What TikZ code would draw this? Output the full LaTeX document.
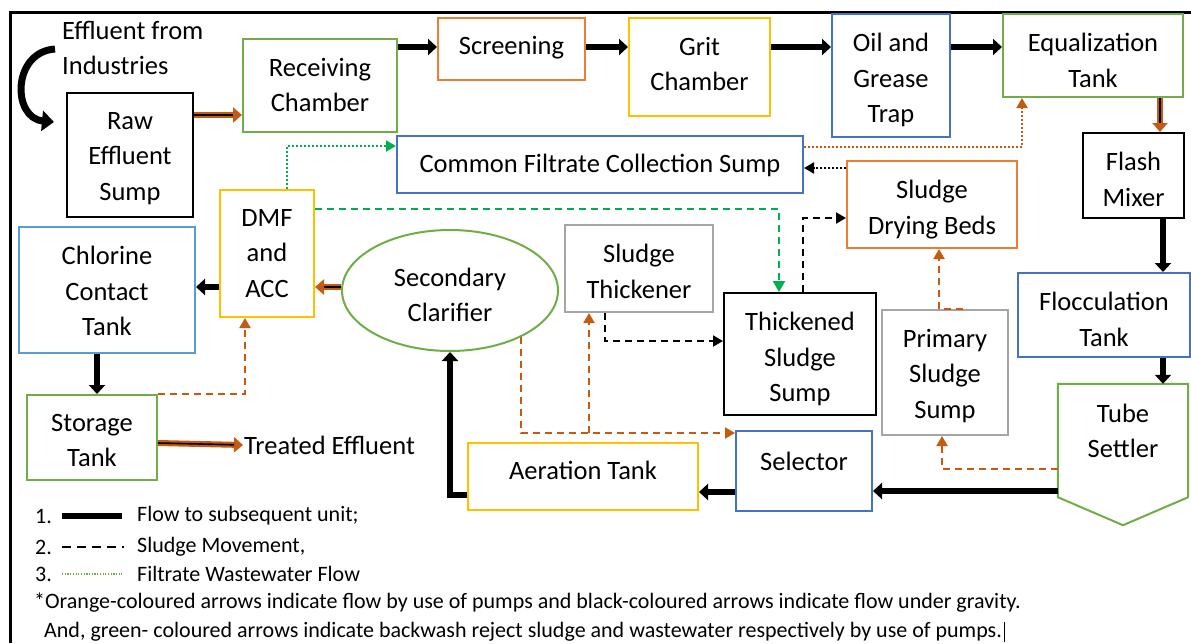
\documentclass[tikz,border=0pt]{standalone}
\usepackage{fontspec}
\setmainfont{Carlito}
\usetikzlibrary{arrows.meta,calc,shapes.geometric}

\definecolor{cgreen}{HTML}{70AD47}
\definecolor{corangebox}{HTML}{ED7D31}
\definecolor{cgold}{HTML}{FFC000}
\definecolor{cblue}{HTML}{4472C4}
\definecolor{clblue}{HTML}{5B9BD5}
\definecolor{cgray}{HTML}{A5A5A5}
\definecolor{corange}{HTML}{C55A11}
\definecolor{cbright}{HTML}{00B050}

\newcommand\boxfont{\fontsize{26.5}{35.5}\selectfont}
\newcommand\legfont{\fontsize{22}{26}\selectfont}
% a treatment unit: name, centre x, centre y, width, height, colour, text, text offset from the top
\newcommand\procunit[8]{%
  \node[box, draw=#6, minimum width=#4pt, minimum height=#5pt] (#1) at (#2,#3) {};
  \node[lbl] (#1-t) at ($(#1.north)+(0,#8)$) {#7};}

\begin{document}
\begin{tikzpicture}[x=1pt,y=-1pt,
  box/.style={draw, line width=2pt, inner sep=0pt},
  txt/.style={inner sep=0pt, align=center, font=\boxfont},
  lbl/.style={txt, anchor=north, execute at begin node=\strut},
  flow/.style={draw=black, line width=6pt, -{Triangle[length=9pt,width=16pt]}},
  pump/.style={draw=corange, line width=6pt, -{Triangle[length=9pt,width=15pt]},
    postaction={draw=black, line width=1.6pt, -, shorten >=9pt}},
  odash/.style={draw=corange, line width=2pt, dash pattern=on 7pt off 5pt,
    -{Triangle[length=10pt,width=11pt]}},
  bdash/.style={draw=black, line width=2pt, dash pattern=on 7pt off 5pt,
    -{Triangle[length=10pt,width=11pt]}},
  gdash/.style={draw=cbright, line width=2pt, dash pattern=on 7pt off 5pt,
    -{Triangle[length=11pt,width=12pt]}},
  gdot/.style={draw=cbright, line width=2pt, dash pattern=on 2pt off 2pt,
    -{Triangle[length=10pt,width=11pt]}},
  bdot/.style={draw=black, line width=2pt, dash pattern=on 2pt off 2pt,
    -{Triangle[length=10pt,width=11pt]}},
  odot/.style={draw=corange, line width=2pt, dash pattern=on 2pt off 2pt,
    -{Triangle[length=10pt,width=11pt]}},
  leg/.style={inner sep=0pt, anchor=west, font=\legfont},
]
\useasboundingbox (0,0) rectangle (1191,643);
\fill[white] (0,0) rectangle (1191,643);

% frame
\draw[line width=3pt] (10,643) -- (10,12) -- (1191,12);

% process units
\procunit{raw}{130}{155}{126}{124}{black}{Raw\\Effluent\\Sump}{20}
\procunit{recv}{320}{85.5}{154}{93}{cgreen}{Receiving\\Chamber}{20}
\procunit{scr}{511.5}{49}{147}{62}{corangebox}{Screening}{12.5}
\procunit{grit}{699.5}{67}{141}{98}{cgold}{Grit\\Chamber}{20}
\procunit{oil}{891}{75.5}{118}{123}{cblue}{Oil and\\Grease\\Trap}{20}
\procunit{eq}{1093}{55.5}{180}{83}{cgreen}{Equalization\\Tank}{20}
\procunit{flash}{1133.5}{175.5}{101}{85}{black}{Flash\\Mixer}{20}
\procunit{cfs}{600}{164.5}{406}{57}{cblue}{Common Filtrate Collection Sump}{12.5}
\procunit{sdb}{932}{204.5}{170}{87}{corangebox}{Sludge\\Drying Beds}{20}
\procunit{dmf}{267}{253.5}{94}{127}{cgold}{DMF\\and\\ACC}{20}
\procunit{cct}{107}{290}{176}{126}{clblue}{Chlorine\\Contact\\Tank}{20}
\procunit{stor}{92}{437.5}{130}{85}{cgreen}{Storage\\Tank}{20}
\procunit{thk}{639}{268.5}{148}{87}{cgray}{Sludge\\Thickener}{20}
\procunit{tss}{800}{354}{152}{122}{black}{Thickened\\Sludge\\Sump}{20}
\procunit{pss}{945}{372.5}{126}{125}{cgray}{Primary\\Sludge\\Sump}{20}
\procunit{floc}{1104}{315}{172}{84}{cblue}{Flocculation\\Tank}{20}
\procunit{sel}{804}{471}{136}{80}{cblue}{Selector}{15.5}
\procunit{aer}{583}{476.5}{230}{67}{cgold}{Aeration Tank}{12.5}

% secondary clarifier
\node[box, draw=cgreen, ellipse, minimum width=216pt, minimum height=121pt] (sec) at (450,290.5) {};
\node[lbl] (sec-t) at ($(sec.north)+(0,38.5)$) {Secondary\\Clarifier};

% tube settler (pentagon pointing down)
\node[inner sep=0pt, minimum width=130pt, minimum height=113pt] (ts) at (1123,440.5) {};
\draw[cgreen, line width=2pt, line join=miter]
  (ts.north west) -- (ts.north east) -- (ts.south east) -- ($(ts.south)+(0,28)$)
  -- (ts.south west) -- cycle;
\node[lbl] (ts-t) at ($(ts.north)+(0,20)$) {Tube\\Settler};

% texts outside the units
\node[txt, anchor=west, align=left] (ind) at (62,48) {Effluent from\\Industries};
\node[txt, anchor=west, inner sep=1pt] (treat) at (243,445) {Treated Effluent};

% incoming effluent
\draw[line width=7pt, -{Triangle[length=12pt,width=20pt]}]
  ($(ind.west)+(-7,1)$) .. controls (12,52) and (12,118) .. ($(raw.west |- 0,122)+(-12,0)$);

% main line (gravity / pumps)
\draw[pump] (raw.east |- 0,115) -- (recv.west |- 0,115);
\draw[flow] (recv.east |- 0,47) -- (scr.west |- 0,47);
\draw[flow] (scr.east |- 0,47) -- (grit.west |- 0,47);
\draw[flow] (grit.east |- 0,47) -- (oil.west |- 0,47);
\draw[flow] (oil.east |- 0,47) -- (eq.west |- 0,47);
\draw[pump] (eq.south -| 1160,0) -- (flash.north -| 1160,0);
\draw[flow] (flash.south -| 1163,0) -- (floc.north -| 1163,0);
\draw[flow] (floc.south -| 1163,0) -- (ts.north -| 1163,0);
\draw[flow] (ts.west |- 0,491) -- (sel.east |- 0,491);
\draw[flow] (sel.west |- 0,492) -- (aer.east |- 0,492);
\draw[flow, line join=miter] (aer.west |- 0,495) -| (sec.south);
\draw[pump] (sec.west |- 0,287) -- (dmf.east |- 0,287);
\draw[flow] (dmf.west |- 0,287) -- (cct.east |- 0,287);
\draw[flow] (cct.south -| 97,0) -- (stor.north -| 97,0);
\draw[pump] (stor.east |- 0,443) -- (treat.west);

% pumped sludge and recirculation
\draw[odash] (stor.north east) -| (dmf.south -| 245,0);
\draw[odash] (sec.-33) |- (sel.west |- 0,433);
\coordinate (split) at (589,433);
\draw[odash] (split) -- (thk.south -| split);
\draw[odash] (pss.north -| 963,0) -- (pss.north -| 939,0) -- (sdb.south -| 939,0);
\draw[odash] (ts.west |- 0,469) -| (pss.south -| 942,0);

% sludge movement under gravity
\draw[bdash] (thk.south -| 605,0) |- (tss.west |- 0,341);
\draw[bdash] (tss.north -| 803,0) |- (sdb.west |- 0,218);

% backwash reject
\draw[gdash] (dmf.east |- 0,209) -| (tss.north -| 779,0);
\draw[gdot] (dmf.north -| 287,0) |- (cfs.west |- 0,146);

% filtrate
\draw[bdot] (sdb.west |- 0,168) -- (cfs.east |- 0,168);
\draw[odot] (cfs.east |- 0,147) -| (eq.south -| 1022,0);

% legend
\node[leg] (l1) at (35,516) {1.};
\draw[line width=6pt] (62,516) -- (122,516);
\node[leg] (l1t) at (137,516) {Flow to subsequent unit;};
\node[leg] (l2) at (35,547) {2.};
\draw[line width=2.5pt, dash pattern=on 9pt off 6pt] (62,547) -- (124,547);
\node[leg] (l2t) at (137,547) {Sludge Movement,};
\node[leg] (l3) at (35,574) {3.};
\draw[cgreen, line width=1.5pt, dash pattern=on 1.2pt off 1.5pt] (62,574) -- (122,574);
\node[leg] (l3t) at (137,574) {Filtrate Wastewater Flow};
\node[leg] (n1) at (34,603) {*Orange-coloured arrows indicate flow by use of pumps and black-coloured arrows indicate flow under gravity.};
\node[leg] (n2) at (44,632) {And, green- coloured arrows indicate backwash reject sludge and wastewater respectively by use of pumps.};
\draw[line width=1pt] ($(n2.east)+(2,-10)$) -- ($(n2.east)+(2,10)$);
\end{tikzpicture}
\end{document}
